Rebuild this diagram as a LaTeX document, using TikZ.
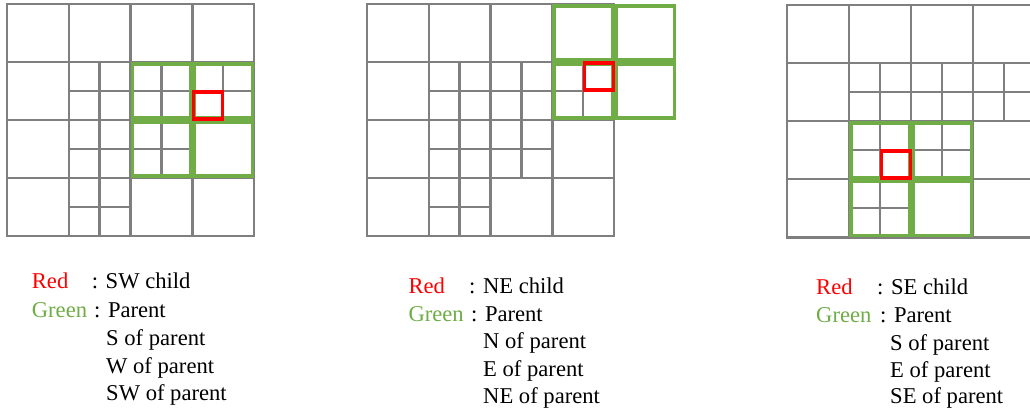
\documentclass[tikz,border=0pt]{standalone}
\usepackage{fontspec}
\setmainfont{Liberation Serif}
\definecolor{gridgray}{HTML}{7F7F7F}
\definecolor{pgreen}{HTML}{70AD47}
\definecolor{pred}{HTML}{FF0000}
\tikzset{
  gridline/.style={draw=gridgray, line width=2.2pt},
  greenbox/.style={draw=pgreen, line width=3.5pt},
  redbox/.style={draw=pred, line width=3.6pt},
  lbl/.style={anchor=base west, inner sep=0pt, font=\fontsize{22.6}{27}\selectfont},
}
\newcommand\bigcell[2]{\draw[gridline] (#1,#2) rectangle (#1+1,#2+1);}
\newcommand\subcell[2]{\draw[gridline] (#1,#2) rectangle (#1+1,#2+1) (#1+0.5,#2) -- (#1+0.5,#2+1) (#1,#2+0.5) -- (#1+1,#2+0.5);}
\newcommand\grn[2]{\draw[greenbox] ([xshift=1.8pt,yshift=-1.8pt]#1,#2) rectangle ([xshift=-1.8pt,yshift=1.8pt]#1+1,#2+1);}
\newcommand\redcell[2]{\draw[redbox] ([xshift=1pt,yshift=-1pt]#1,#2) rectangle ([xshift=-1pt,yshift=1pt]#1+0.5,#2+0.5);}
\newcommand\basegrid{%
  \foreach \c in {0,...,3}{\foreach \r in {0,...,3}{\bigcell{\c}{\r}}}%
  \subcell{1}{1}\subcell{2}{1}\subcell{3}{1}\subcell{1}{2}\subcell{2}{2}\subcell{1}{3}%
}
\begin{document}
\begin{tikzpicture}[x=1pt,y=-1pt]
\useasboundingbox (0,0) rectangle (1030,414);
\clip (0,0) rectangle (1030,414);
\fill[white] (0,0) rectangle (1030,414);
% grid 1
\begin{scope}[shift={(6.7,4)}, x=61.9pt, y=-58pt]
  \basegrid
  \grn{2}{1}\grn{3}{1}\grn{2}{2}\grn{3}{2}
  \redcell{3}{1.5}
\end{scope}
% grid 2
\begin{scope}[shift={(366.7,4)}, x=61.9pt, y=-58pt]
  \basegrid
  \grn{3}{0}\grn{4}{0}\grn{3}{1}\grn{4}{1}
  \redcell{3.5}{1}
\end{scope}
% grid 3
\begin{scope}[shift={(787.3,5)}, x=62pt, y=-58.1pt]
  \basegrid
  \grn{1}{2}\grn{2}{2}\grn{1}{3}\grn{2}{3}
  \redcell{1.5}{2.5}
\end{scope}
% labels 1
\node[lbl, text=pred] (r1) at (31.7,288.3) {Red};
\node[lbl] (r1t) at (91.7,288.3) {: SW child};
\node[lbl, text=pgreen] (g1) at (31.7,317.3) {Green};
\node[lbl] (g1t) at (94,317.3) {: Parent};
\node[lbl] (g1a) at (106,345) {S of parent};
\node[lbl] (g1b) at (106,373) {W of parent};
\node[lbl] (g1c) at (106,400.5) {SW of parent};
% labels 2
\node[lbl, text=pred] (r2) at (408.3,293.3) {Red};
\node[lbl] (r2t) at (469,293.3) {: NE child};
\node[lbl, text=pgreen] (g2) at (408.3,321.7) {Green};
\node[lbl] (g2t) at (471,321.7) {: Parent};
\node[lbl] (g2a) at (483,348.5) {N of parent};
\node[lbl] (g2b) at (483,376) {E of parent};
\node[lbl] (g2c) at (483,403.5) {NE of parent};
% labels 3
\node[lbl, text=pred] (r3) at (816,294.3) {Red};
\node[lbl] (r3t) at (877,294.3) {: SE child};
\node[lbl, text=pgreen] (g3) at (816,322.3) {Green};
\node[lbl] (g3t) at (880,322.3) {: Parent};
\node[lbl] (g3a) at (890,350) {S of parent};
\node[lbl] (g3b) at (890,377) {E of parent};
\node[lbl] (g3c) at (890,403.5) {SE of parent};
\end{tikzpicture}
\end{document}
